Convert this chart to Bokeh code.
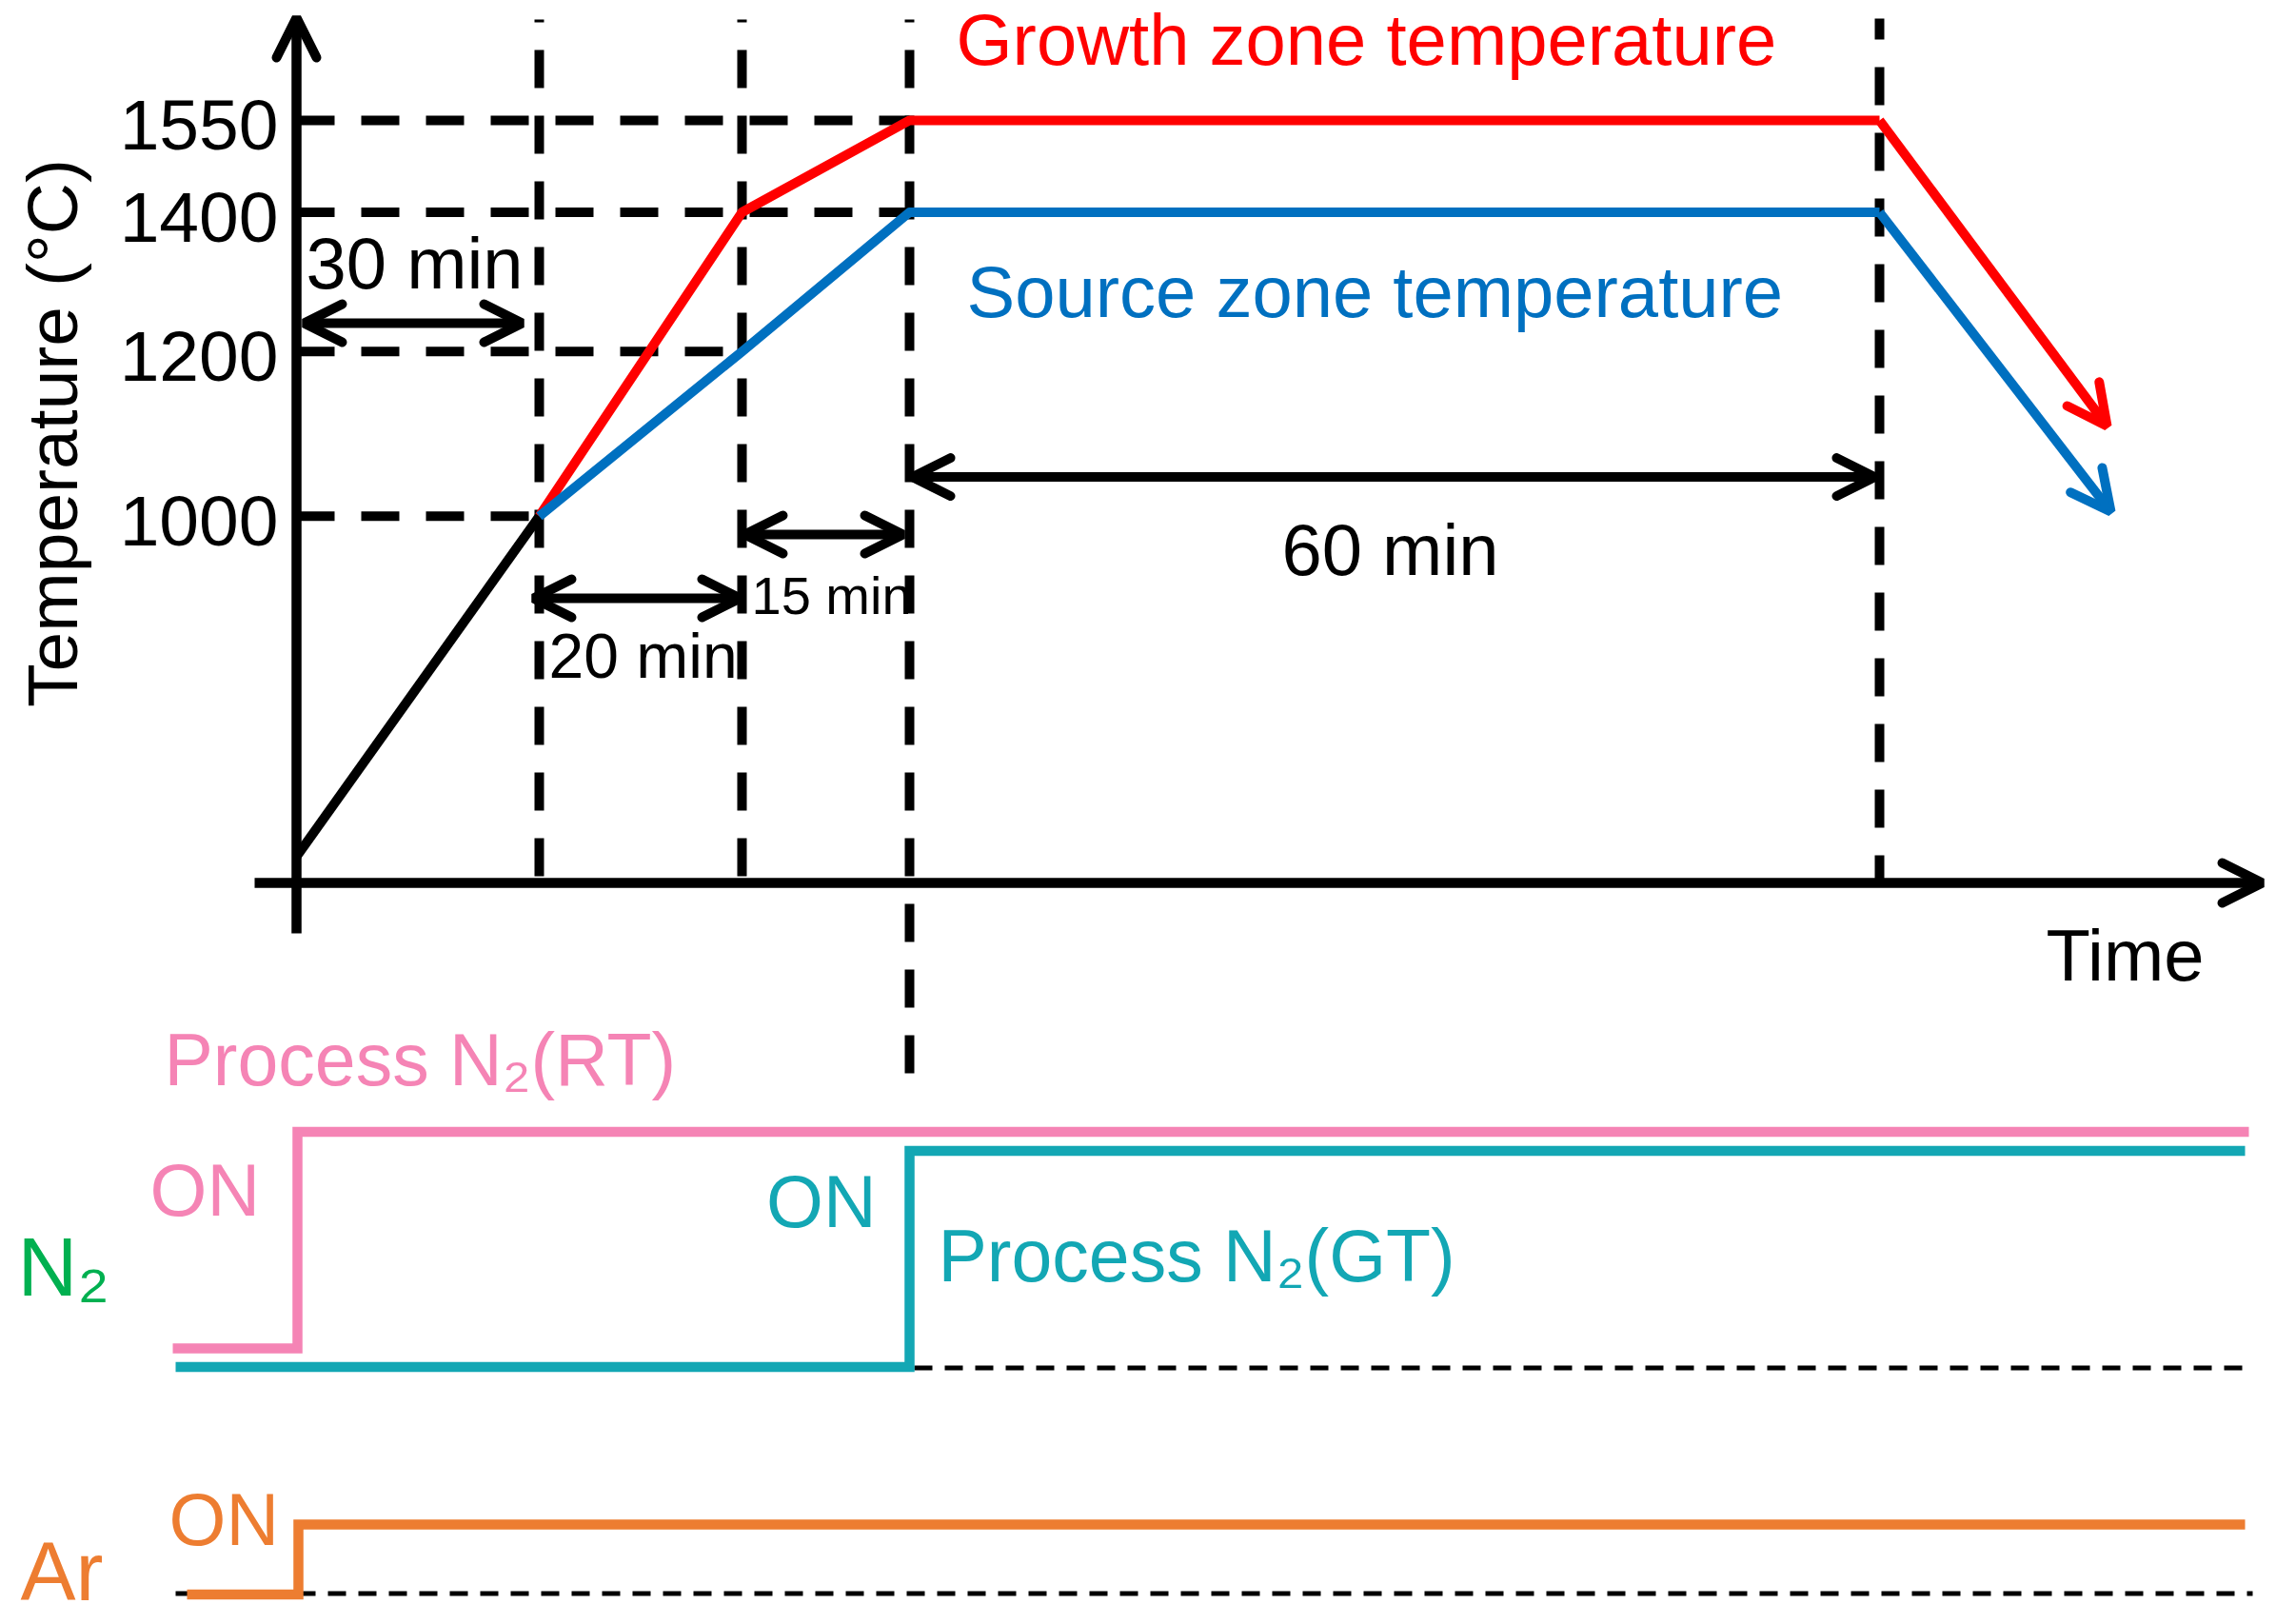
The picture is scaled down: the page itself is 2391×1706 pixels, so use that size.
import math
from bokeh.plotting import figure
from bokeh.models import Range1d, LogScale, LinearScale, Arrow, OpenHead
from bokeh.core.properties import value
from bokeh.embed import file_html
from bokeh.resources import INLINE

# ---------------- data (schematic) ----------------
# schematic time positions (arbitrary units) of the phase boundaries
phase_t = [0.0, 25.5, 46.8, 64.4, 166.3]
phase_labels = ["30 min", "20 min", "15 min", "60 min"]
temp_ticks = [1000, 1200, 1400, 1550]
tick_labels = ["1000", "1200", "1400", "1550"]

ramp_t = [0.0, 25.5]
ramp_T = [686, 1000]
growth_t = [25.5, 46.8, 64.4, 166.3, 190.2]
growth_T = [1000, 1400, 1550, 1550, 1105]
source_t = [25.5, 46.8, 64.4, 166.3, 190.6]
source_T = [1000, 1200, 1400, 1400, 1005]

guide_T = [1550, 1400, 1200, 1000]
guide_end_t = [64.4, 64.4, 46.8, 25.5]

n2_rt_t = [-13.0, 0.1, 205.1]
n2_rt_on = [0, 1, 1]
n2_gt_t = [-12.7, 64.4, 204.7]
n2_gt_on = [0, 1, 1]
ar_t = [-11.5, 0.2, 204.7]
ar_on = [0, 1, 1]

# ---------------- layout helpers ----------------
W, H = 2385, 1704
PAGE = 0
Y0, K = 541.8, 2185.1
SHIFT = 0.38   # em fraction: compensates where the text renderer puts the baseline


def tx(px):
    return (px - 311) / 10.0


def ty(py):
    return 1000 * 10 ** ((Y0 - py) / K)


def py_of(T):
    return Y0 - K * math.log10(T / 1000.0)


def gy(py):
    return (1698 - py) / 10.0


def fs(s):
    return "%dpx" % s


FONT = value("Liberation Sans")
BLACK = "#000000"
RED = "#FF0000"
BLUE = "#0070C0"
PINK = "#F584B5"
TEAL = "#13A7B4"
ORANGE = "#ED7D31"
GREEN = "#00B050"

p = figure(width=W, height=H,
           x_range=Range1d(tx(PAGE), tx(PAGE + W)),
           y_range=Range1d(ty(PAGE + H), ty(PAGE)),
           y_axis_type="log",
           output_backend="svg", toolbar_location=None,
           x_axis_location=None, y_axis_location=None,
           min_border=0, outline_line_color=None,
           background_fill_color="white", border_fill_color="white")
p.y_scale = LogScale()
p.xgrid.visible = False
p.ygrid.visible = False
p.extra_y_ranges = {"gas": Range1d(gy(PAGE + H), gy(PAGE))}
p.extra_y_scales = {"gas": LinearScale()}

# ---------------- dashed guides ----------------
vline_top = [20, 20, 20, 19]
vline_bottom = [927, 927, 1131, 927]
vline_offset = [37, 37, 37, 18]
for t, a, b, off in zip(phase_t[1:], vline_top, vline_bottom, vline_offset):
    p.line([t, t], [ty(a), ty(b)], line_color=BLACK, line_width=10,
           line_dash="40 29", line_dash_offset=off)
for T, te in zip(guide_T, guide_end_t):
    p.line([phase_t[0], te], [T, T], line_color=BLACK, line_width=10,
           line_dash="40 28")

# ---------------- temperature curves ----------------
p.line(ramp_t, ramp_T, line_color=BLACK, line_width=10, line_join="round")
p.line(growth_t[:-1], growth_T[:-1], line_color=RED, line_width=10, line_join="round")
p.line(source_t[:-1], source_T[:-1], line_color=BLUE, line_width=10, line_join="round")


def head(color, size=40):
    return OpenHead(size=size, line_color=color, line_width=10, line_cap="round")


p.add_layout(Arrow(end=head(RED, 42), x_start=growth_t[-2], y_start=growth_T[-2],
                   x_end=growth_t[-1], y_end=growth_T[-1],
                   line_color=RED, line_width=10))
p.add_layout(Arrow(end=head(BLUE, 42), x_start=source_t[-2], y_start=source_T[-2],
                   x_end=source_t[-1], y_end=source_T[-1],
                   line_color=BLUE, line_width=10))

# ---------------- drawn axes ----------------
p.add_layout(Arrow(end=head(BLACK, 42), x_start=0, y_start=ty(980), x_end=0, y_end=ty(18),
                   line_color=BLACK, line_width=10.5))
p.add_layout(Arrow(end=head(BLACK, 42), x_start=tx(267), y_start=ty(927),
                   x_end=tx(2376), y_end=ty(927), line_color=BLACK, line_width=10.5))

# duration arrows
dur_y = [339, 628, 561, 500.6]
dur_inset = [(0.8, 1.8), (-0.6, 0.2), (0.3, 0.7), (0.3, 0.5)]
for i in range(4):
    a, b = phase_t[i] + dur_inset[i][0], phase_t[i + 1] - dur_inset[i][1]
    p.add_layout(Arrow(start=head(BLACK), end=head(BLACK),
                       x_start=a, y_start=ty(dur_y[i]), x_end=b, y_end=ty(dur_y[i]),
                       line_color=BLACK, line_width=10))

# ---------------- texts ----------------
p.text(x=[tx(292)] * 4, y=[ty(py_of(T) + 34 - SHIFT * 75) for T in temp_ticks],
       text=tick_labels, text_font=FONT, text_font_size=fs(75), text_color=BLACK,
       text_align="right", text_baseline="alphabetic")
p.text(x=[tx(83 - SHIFT * 75)], y=[ty(454.5)], text=["Temperature (°C)"], angle=math.pi / 2,
       text_font=FONT, text_font_size=fs(75), text_color=BLACK,
       text_align="center", text_baseline="alphabetic")

dur_text = [(321, 305, 76, "left"), (576, 714, 66, "left"),
            (789, 646, 56, "left"), (1460, 606, 76, "center")]
for (x, y, s, al), lab in zip(dur_text, phase_labels):
    p.text(x=[tx(x)], y=[ty(y - SHIFT * s)], text=[lab], text_font=FONT,
           text_font_size=fs(s), text_color=BLACK, text_align=al,
           text_baseline="alphabetic")

top_texts = [
    ("Growth zone temperature", 1004, 70, RED, "left"),
    ("Source zone temperature", 1015, 335, BLUE, "left"),
    ("Time", 2232, 1032, BLACK, "center"),
]
for txt, x, y, c, al in top_texts:
    p.text(x=[tx(x)], y=[ty(y - SHIFT * 76)], text=[txt], text_font=FONT,
           text_font_size=fs(76), text_color=c, text_align=al,
           text_baseline="alphabetic")

# ---------------- gas panel ----------------
tracks = {
    "rt": (gy(1416), gy(1188.5) - gy(1416)),
    "gt": (gy(1435.5), gy(1208.5) - gy(1435.5)),
    "ar": (gy(1674.5), gy(1601) - gy(1674.5)),
}
p.line([phase_t[3] + 0.5, 205.5], [gy(1436.5)] * 2, y_range_name="gas",
       line_color=BLACK, line_width=5, line_dash="19 13")
p.line([-12.7, 205.5], [gy(1673.5)] * 2, y_range_name="gas",
       line_color=BLACK, line_width=5, line_dash="19 13")
for key, ts, st, c in [("rt", n2_rt_t, n2_rt_on, PINK), ("gt", n2_gt_t, n2_gt_on, TEAL),
                       ("ar", ar_t, ar_on, ORANGE)]:
    base, amp = tracks[key]
    p.step(ts, [base + amp * s for s in st], mode="after", y_range_name="gas",
           line_color=c, line_width=10.5, line_join="miter")

gas_texts = [
    ("Process N\u2082(RT)", 172, 1142, PINK, 77, "left"),
    ("ON", 157, 1279, PINK, 77, "left"),
    ("N\u2082", 18, 1363, GREEN, 87, "left"),
    ("ON", 920, 1291, TEAL, 77, "right"),
    ("Process N\u2082(GT)", 985, 1348, TEAL, 77, "left"),
    ("ON", 177, 1625, ORANGE, 77, "left"),
    ("Ar", 21, 1683, ORANGE, 87, "left"),
]
for txt, x, y, c, s, al in gas_texts:
    p.text(x=[tx(x)], y=[gy(y - SHIFT * s)], y_range_name="gas", text=[txt],
           text_font=FONT, text_font_size=fs(s), text_color=c, text_align=al,
           text_baseline="alphabetic")

open("out.html", "w").write(file_html(p, INLINE))
